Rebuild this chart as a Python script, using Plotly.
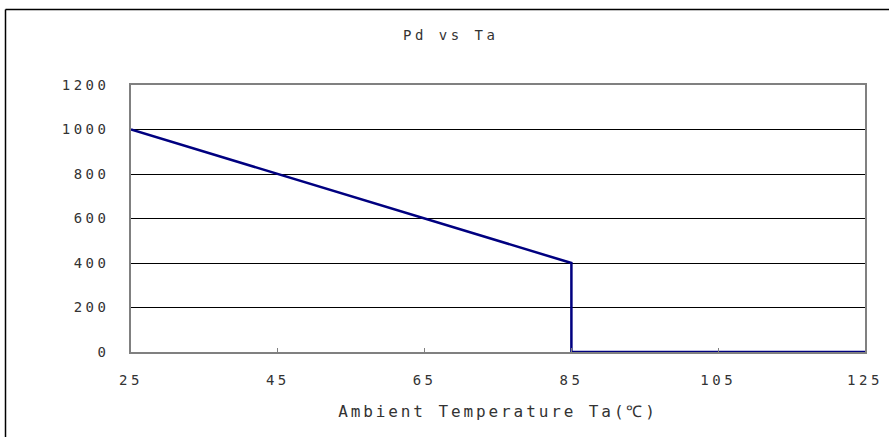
import plotly.graph_objects as go

# derating curve: power dissipation vs ambient temperature
temp_c = [25, 85, 85, 125]
pd_mw = [1000, 400, 0, 0]

x_ticks = [25, 45, 65, 85, 105, 125]
y_ticks = [0, 200, 400, 600, 800, 1000, 1200]

FONT = "DejaVu Sans Mono"
TEXT_COLOR = "#333333"


def build_fig():
    fig = go.Figure()
    fig.add_trace(
        go.Scatter(
            x=temp_c,
            y=pd_mw,
            mode="lines",
            line=dict(color="#000080", width=2.5),
            showlegend=False,
            hoverinfo="x+y",
        )
    )

    fig.update_layout(
        width=889,
        height=437,
        margin=dict(l=131, r=24, t=85, b=85),
        paper_bgcolor="white",
        plot_bgcolor="white",
        font=dict(family=FONT, size=14, color=TEXT_COLOR),
        title=dict(
            text="Pd vs Ta",
            x=0.507,
            xanchor="center",
            y=0.92,
            yanchor="middle",
            font=dict(family=FONT, size=14, color=TEXT_COLOR),
        ),
    )

    fig.update_xaxes(
        range=[25, 125],
        tickvals=x_ticks,
        ticks="inside",
        ticklen=4,
        tickcolor="#808080",
        tickwidth=1,
        ticklabelstandoff=14,
        showgrid=False,
        zeroline=False,
        showline=True,
        mirror=True,
        linecolor="#808080",
        linewidth=1.5,
        title=dict(text="Ambient Temperature Ta(℃)", standoff=19,
                   font=dict(family=FONT, size=16, color=TEXT_COLOR)),
    )
    fig.update_yaxes(
        range=[0, 1200],
        tickvals=y_ticks,
        ticks="",
        ticklabelstandoff=17,
        showgrid=True,
        gridcolor="black",
        gridwidth=1,
        zeroline=False,
        showline=True,
        mirror=True,
        linecolor="#808080",
        linewidth=1.5,
    )

    # outer chart frame (left and top edges visible in the crop)
    fx = (5.5 - 131) / 734
    fy = 1 + (85 - 9.5) / 267
    fig.add_shape(type="line", xref="paper", yref="paper", x0=fx, x1=fx, y0=-1, y1=fy,
                  line=dict(color="black", width=1.5))
    fig.add_shape(type="line", xref="paper", yref="paper", x0=fx, x1=1.5, y0=fy, y1=fy,
                  line=dict(color="black", width=1.5))
    return fig


fig = build_fig()
page_js = (
    "document.body.style.margin='0';"
    "document.querySelectorAll('.main-svg text').forEach(function(t)"
    "{t.setAttribute('letter-spacing','3.5px');});"
    "document.querySelectorAll('.main-svg .g-xtitle text').forEach(function(t)"
    "{t.setAttribute('letter-spacing','2.9px');});"
)
fig.write_html("out.html", post_script=page_js, config={"displayModeBar": False})
